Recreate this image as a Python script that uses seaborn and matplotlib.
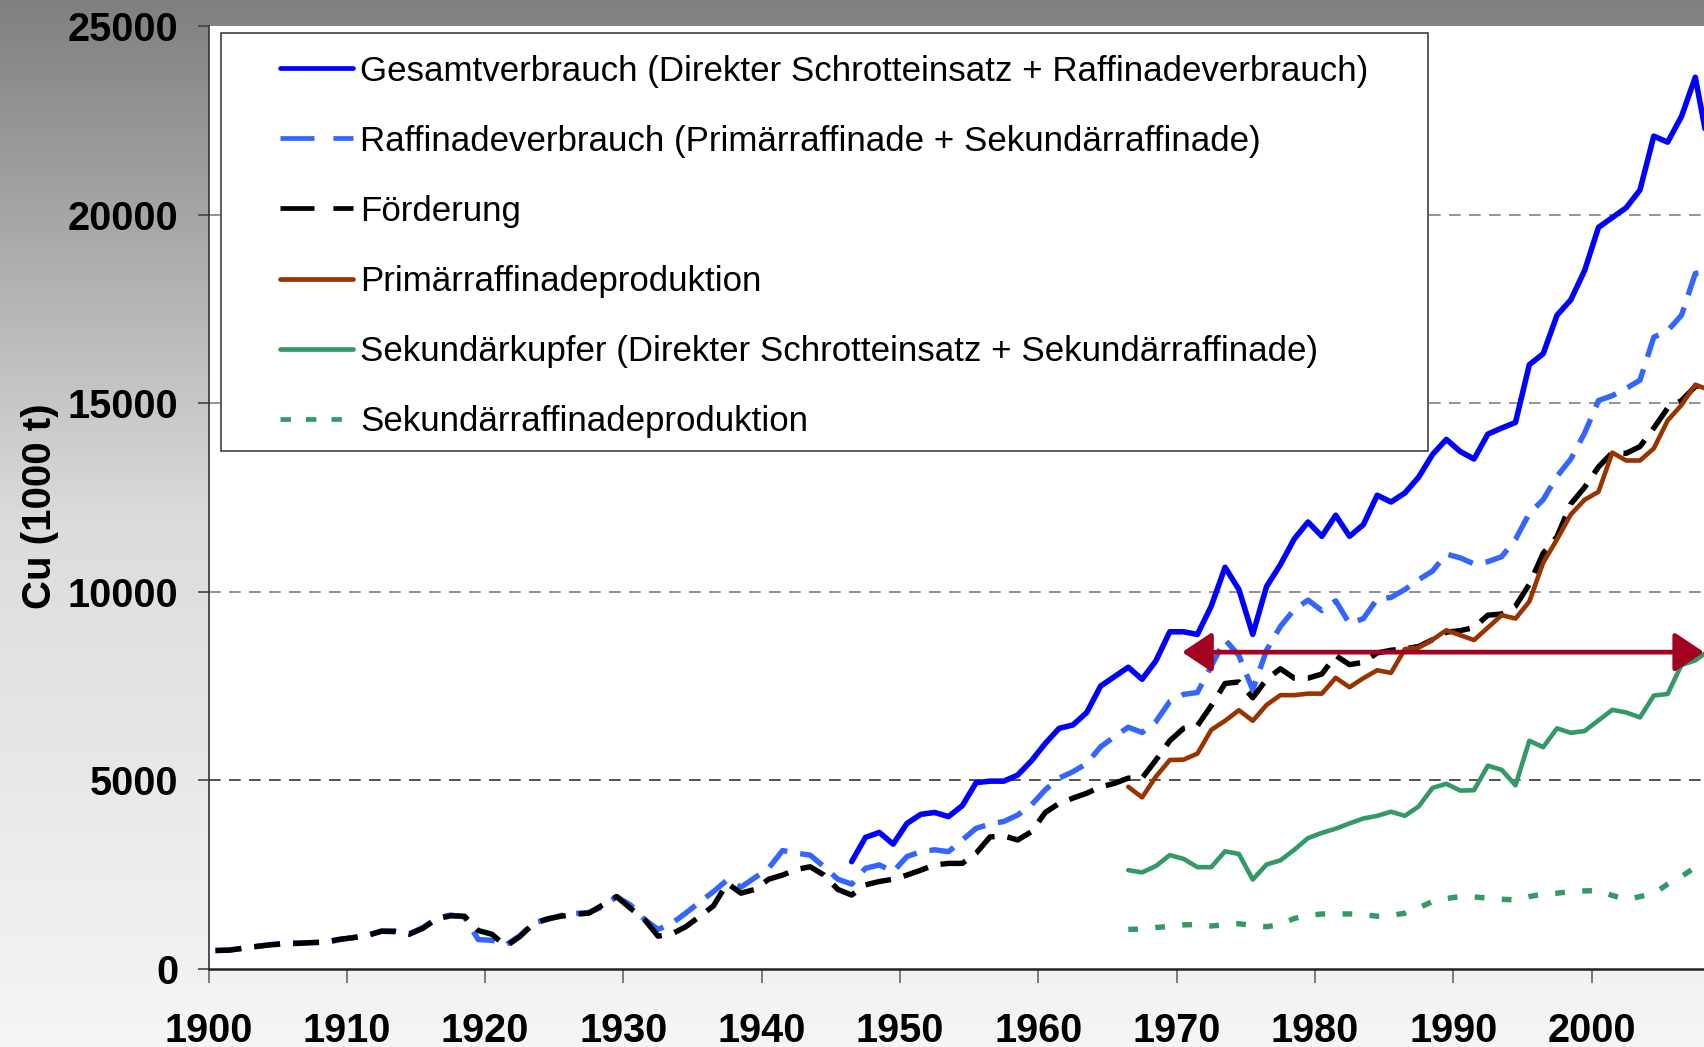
import numpy as np
import matplotlib
matplotlib.use("Agg")
import matplotlib.pyplot as plt
from matplotlib.colors import LinearSegmentedColormap
from matplotlib.lines import Line2D
from matplotlib.patches import Rectangle
import seaborn as sns

# ---- Daten (Cu in 1000 t) ----
jahre_lang = np.arange(1900, 2009)     # Raffinadeverbrauch, Förderung
jahre_gesamt = np.arange(1946, 2009)   # Gesamtverbrauch
jahre_kurz = np.arange(1966, 2009)     # Primär-/Sekundärreihen

raffinadeverbrauch = [
    490, 500, 550, 600, 650, 680, 690, 700, 700, 780,
    840, 900, 1010, 1010, 930, 1100, 1350, 1430, 1380, 780,
    760, 640, 880, 1230, 1310, 1420, 1470, 1500, 1650, 1920,
    1700, 1320, 1050, 1210, 1480, 1770, 2050, 2360, 2170, 2420,
    2670, 3140, 3070, 3020, 2710, 2380, 2250, 2670, 2760, 2580,
    2980, 3110, 3160, 3110, 3420, 3730, 3840, 3910, 4080, 4350,
    4750, 5060, 5230, 5450, 5890, 6160, 6410, 6270, 6560, 7090,
    7280, 7330, 8030, 8730, 8310, 7400, 8450, 9080, 9530, 9780,
    9500, 9760, 9150, 9290, 9810, 9850, 10060, 10320, 10550, 11000,
    10900, 10740, 10800, 10930, 11390, 12080, 12440, 13060, 13520, 14210,
    15070, 15200, 15390, 15610, 16750, 16920, 17330, 18440, 18500,
]
foerderung = [
    490, 500, 550, 600, 640, 670, 680, 700, 720, 790,
    830, 890, 1000, 990, 920, 1080, 1330, 1410, 1400, 1020,
    920, 600, 860, 1200, 1330, 1400, 1450, 1480, 1700, 1920,
    1610, 1320, 870, 930, 1120, 1390, 1670, 2270, 2010, 2110,
    2380, 2490, 2640, 2710, 2490, 2110, 1960, 2230, 2320, 2380,
    2490, 2620, 2760, 2800, 2800, 3070, 3500, 3530, 3420, 3640,
    4150, 4390, 4530, 4660, 4830, 4920, 5060, 5060, 5540, 6050,
    6380, 6450, 6980, 7570, 7610, 7190, 7680, 7960, 7710, 7710,
    7820, 8310, 8070, 8130, 8380, 8450, 8490, 8550, 8730, 8930,
    8970, 9050, 9380, 9410, 9620, 10200, 11020, 11460, 12330, 12770,
    13310, 13690, 13670, 13850, 14340, 14870, 15070, 15440, 15500,
]
gesamtverbrauch = [
    2845, 3490, 3620, 3310, 3860, 4100, 4150, 4040, 4330, 4940,
    4980, 4980, 5140, 5520, 5980, 6380, 6470, 6800, 7500, 7750,
    8000, 7680, 8170, 8940, 8940, 8870, 9620, 10650, 10060, 8870,
    10140, 10720, 11400, 11850, 11470, 12030, 11470, 11780, 12560, 12380,
    12620, 13040, 13640, 14040, 13720, 13520, 14180, 14340, 14490, 16020,
    16310, 17330, 17740, 18520, 19660, 19920, 20180, 20650, 22080, 21920,
    22600, 23640, 21700,
]
primaerraffinade = [
    4830, 4550, 5100, 5540, 5550, 5710, 6340, 6580, 6860, 6580,
    7000, 7260, 7260, 7300, 7300, 7720, 7470, 7710, 7920, 7850,
    8480, 8520, 8730, 8980, 8850, 8720, 9050, 9380, 9290, 9740,
    10770, 11390, 12050, 12440, 12650, 13690, 13480, 13480, 13800, 14540,
    14950, 15490, 15350,
]
sekundaerkupfer = [
    2620, 2560, 2730, 3020, 2920, 2700, 2700, 3120, 3050, 2370,
    2770, 2880, 3160, 3470, 3610, 3720, 3860, 3990, 4060, 4170,
    4060, 4310, 4800, 4910, 4730, 4740, 5390, 5280, 4870, 6050,
    5880, 6380, 6260, 6310, 6590, 6870, 6800, 6670, 7250, 7290,
    8060, 8180, 8450,
]
sekundaerraffinade = [
    1050, 1060, 1100, 1130, 1170, 1180, 1140, 1170, 1200, 1150,
    1120, 1180, 1340, 1420, 1460, 1460, 1460, 1440, 1400, 1420,
    1480, 1620, 1790, 1870, 1920, 1910, 1880, 1850, 1830, 1920,
    1990, 2010, 2050, 2070, 2080, 1950, 1840, 1920, 2000, 2250,
    2450, 2700, 2720,
]

legenden_texte = [
    "Gesamtverbrauch (Direkter Schrotteinsatz + Raffinadeverbrauch)",
    "Raffinadeverbrauch (Primärraffinade + Sekundärraffinade)",
    "Förderung",
    "Primärraffinadeproduktion",
    "Sekundärkupfer (Direkter Schrotteinsatz + Sekundärraffinade)",
    "Sekundärraffinadeproduktion",
]

x_ticks = list(range(1900, 2001, 10))
y_ticks = [0, 5000, 10000, 15000, 20000, 25000]
gitterlinien = [5000, 10000, 15000, 20000]

# roter Doppelpfeil (Jahr von/bis, Höhe)
pfeil_von, pfeil_bis, pfeil_wert = 1970.4, 2008.13, 8400

# ---- Stil ----
sns.set_theme(style="white")
plt.rcParams["font.family"] = ["Liberation Sans", "DejaVu Sans"]
plt.rcParams["text.color"] = "black"
plt.rcParams["xtick.labelcolor"] = "black"
plt.rcParams["ytick.labelcolor"] = "black"

fig = plt.figure(figsize=(17.04, 10.47), dpi=100)

# grauer Verlauf als Hintergrund (wie in Excel)
bg = fig.add_axes([0, 0, 1, 1], zorder=-1)
verlauf = LinearSegmentedColormap.from_list("verlauf", ["#f5f5f5", "#dcdcdc", "#808080"])
bg.imshow(np.linspace(0, 1, 256).reshape(-1, 1), cmap=verlauf, aspect="auto",
          extent=[0, 1, 0, 1], origin="lower")
bg.set_axis_off()

ax = fig.add_axes([0.1224, 0.0745, 0.8776, 0.9007])
ax.set_facecolor("white")

# Gitterlinien gestrichelt
for g in gitterlinien:
    ax.axhline(g, color="#333333" if g == 5000 else "#808080", lw=1.2,
               linestyle=(0, (7, 5)), zorder=1)

# Excel setzt die Punkte in die Jahresmitte
mitte = 0.5
serien = [
    (jahre_gesamt, gesamtverbrauch, "#0000FF", "-", 4.0),
    (jahre_lang, raffinadeverbrauch, "#3366FF", (0, (4.8, 2.4)), 3.9),
    (jahre_lang, foerderung, "#000000", (0, (4.8, 2.4)), 3.9),
    (jahre_kurz, primaerraffinade, "#993300", "-", 3.3),
    (jahre_kurz, sekundaerkupfer, "#339966", "-", 3.3),
    (jahre_kurz, sekundaerraffinade, "#339966", (0, (1.8, 3.2)), 3.9),
]
# Zeichenreihenfolge: Förderung über Raffinade, Gesamt oben
reihenfolge = [1, 2, 3, 4, 5, 0]
for i in reihenfolge:
    jahre, werte, farbe, stil, lw = serien[i]
    sns.lineplot(x=jahre + mitte, y=werte, ax=ax, color=farbe, linestyle=stil,
                 linewidth=lw, zorder=3 + i * 0.01)

ax.annotate("", xy=(pfeil_bis, pfeil_wert), xytext=(pfeil_von, pfeil_wert),
            arrowprops=dict(arrowstyle="<|-|>,head_length=0.45,head_width=0.3",
                            color="#A50021", lw=3.4, mutation_scale=40,
                            shrinkA=0, shrinkB=0),
            annotation_clip=False, zorder=4)

ax.set_xlim(1900, 2008.13)
ax.set_ylim(0, 25000)
ax.set_xticks(x_ticks)
ax.set_yticks(y_ticks)
ax.set_xticklabels([str(t) for t in x_ticks], fontweight="bold")
ax.set_yticklabels([str(t) for t in y_ticks], fontweight="bold")
ax.tick_params(axis="y", direction="out", length=8, width=1.2, pad=14,
               labelsize=28.5, color="#444444", left=True)
ax.tick_params(axis="x", direction="out", length=10, width=1.2, pad=21,
               labelsize=28.5, color="#666666", bottom=True)
ax.set_xlabel("")
ax.set_ylabel("")
for s in ["top", "right"]:
    ax.spines[s].set_visible(False)
ax.spines["left"].set_color("#333333")
ax.spines["left"].set_linewidth(1.2)
ax.spines["bottom"].set_color("#222222")
ax.spines["bottom"].set_linewidth(1.8)

fig.text(0.0235, 0.517, "Cu (1000 t)", rotation=90, ha="center", va="center",
         fontsize=29, fontweight="bold", color="black")

# Legendenrahmen
ax.add_patch(Rectangle((0.1297, 0.5692), 0.7083, 0.3992, transform=fig.transFigure,
                       facecolor="white", edgecolor="#404040", lw=1.2,
                       clip_on=False, zorder=5))

handles = [
    Line2D([], [], color="#0000FF", lw=3.4, solid_capstyle="round"),
    Line2D([], [], color="#3366FF", lw=3.4, linestyle=(0, (7.2, 4.0))),
    Line2D([], [], color="#000000", lw=3.4, linestyle=(0, (7.2, 4.0))),
    Line2D([], [], color="#993300", lw=3.4, solid_capstyle="round"),
    Line2D([], [], color="#339966", lw=3.4, solid_capstyle="round"),
    Line2D([], [], color="#339966", lw=3.4, linestyle=(0, (2.2, 3.2))),
]
leg = ax.legend(handles, legenden_texte, loc="upper left",
                bbox_to_anchor=(0.1643, 0.9478), bbox_transform=fig.transFigure,
                frameon=False, borderpad=0, borderaxespad=0, fontsize=25.15,
                handlelength=2.1, handletextpad=0.2, labelspacing=1.06)
for t in leg.get_texts():
    t.set_color("black")
leg.set_zorder(6)

plt.savefig("out.png", dpi=100)
